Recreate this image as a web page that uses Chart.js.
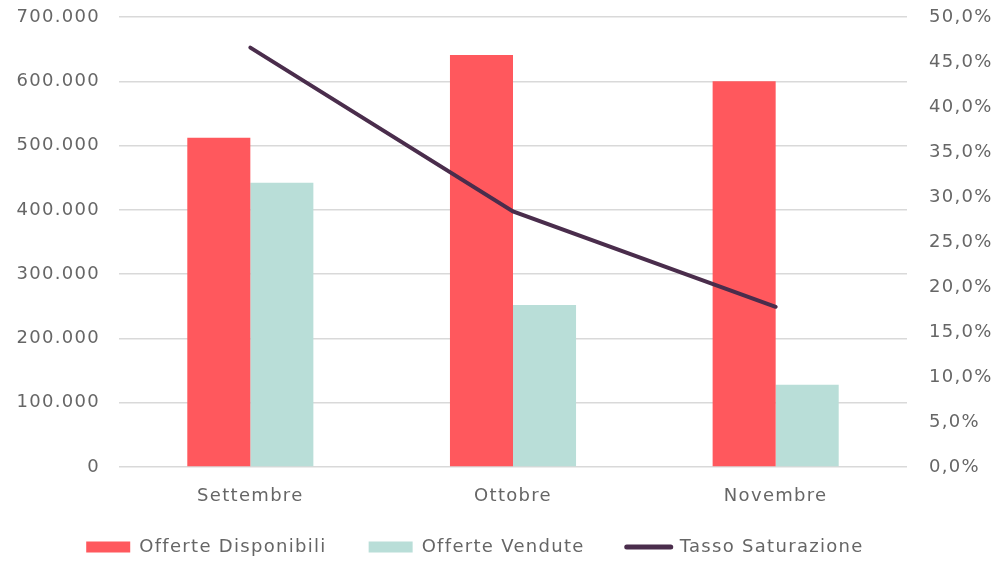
<!DOCTYPE html>
<html>
<head>
<meta charset="utf-8">
<script src="https://cdn.jsdelivr.net/npm/chart.js@4.4.1/dist/chart.umd.min.js"></script>
<style>
  html, body { margin: 0; padding: 0; background: #fff; }
  #wrap { width: 992px; height: 563px; }
</style>
</head>
<body>
<div id="wrap"><canvas id="chart" width="992" height="563"></canvas></div>
<script>
// dati
const mesi = ['Settembre', 'Ottobre', 'Novembre'];
const offerteDisponibili = [512000, 641000, 600000];
const offerteVendute = [442000, 252000, 128000];
const tassoSaturazione = [46.6, 28.4, 17.8];

const TEXT = '#666666';
const GRID = '#d9d9d9';
const FONT = { family: 'DejaVu Sans', size: 18 };

const fmtMigliaia = v => v === 0 ? '0' : v.toLocaleString('it-IT').replace(/,/g, '.');
const fmtPerc = v => v.toFixed(1).replace('.', ',') + '%';

// testo un po' più largo, come il font originale
const spaziatura = {
    id: 'spaziatura',
    beforeUpdate: chart => { chart.ctx.letterSpacing = '1.3px'; },
    beforeDraw: chart => { chart.ctx.letterSpacing = '1.3px'; }
};

// gli assi verticali non devono spingere l'area del grafico
const senzaMargini = s => { s.paddingTop = 0; s.paddingBottom = 0; };

new Chart(document.getElementById('chart').getContext('2d'), {
    plugins: [spaziatura],
    data: {
        labels: mesi,
        datasets: [
            {
                type: 'line',
                label: 'Tasso Saturazione',
                data: tassoSaturazione,
                yAxisID: 'y1',
                borderColor: '#4a2d4c',
                backgroundColor: '#4a2d4c',
                borderWidth: 4,
                borderCapStyle: 'round',
                pointRadius: 0,
                tension: 0,
                order: 0
            },
            {
                type: 'bar',
                label: 'Offerte Disponibili',
                data: offerteDisponibili,
                yAxisID: 'y',
                backgroundColor: '#ff585d',
                categoryPercentage: 0.48,
                barPercentage: 1.0,
                order: 1
            },
            {
                type: 'bar',
                label: 'Offerte Vendute',
                data: offerteVendute,
                yAxisID: 'y',
                backgroundColor: '#b9ded8',
                categoryPercentage: 0.48,
                barPercentage: 1.0,
                order: 1
            }
        ]
    },
    options: {
        responsive: false,
        animation: false,
        layout: { padding: { top: 17, bottom: -3 } },
        scales: {
            x: {
                grid: { display: false },
                border: { display: false },
                ticks: { color: TEXT, font: FONT, padding: 11 },
                afterFit: s => { s.height = 43; }
            },
            y: {
                position: 'left',
                min: 0, max: 700000,
                ticks: { stepSize: 100000, color: TEXT, font: FONT, padding: 19, callback: fmtMigliaia },
                grid: { color: GRID, lineWidth: 1.5, drawTicks: false },
                border: { display: false },
                afterFit: s => { s.width = 119; senzaMargini(s); }
            },
            y1: {
                position: 'right',
                min: 0, max: 50,
                ticks: { stepSize: 5, color: TEXT, font: FONT, padding: 14, callback: fmtPerc },
                grid: { display: false },
                border: { display: false },
                afterFit: s => { s.width = 85; senzaMargini(s); }
            }
        },
        plugins: {
            tooltip: { enabled: false },
            legend: {
                position: 'bottom',
                labels: {
                    color: TEXT,
                    font: FONT,
                    usePointStyle: true,
                    pointStyleWidth: 44,
                    boxHeight: 11,
                    padding: 28,
                    // spazi finali: allargano gli intervalli e spostano la legenda a sinistra come nell'originale
                    generateLabels: chart => chart.data.datasets.map((ds, i) => ({
                        text: ds.type === 'line' ? ds.label + '      ' : ds.label + '  ',
                        fillStyle: ds.backgroundColor,
                        strokeStyle: ds.type === 'line' ? ds.borderColor : ds.backgroundColor,
                        lineWidth: ds.type === 'line' ? 5 : 0,
                        lineCap: 'round',
                        pointStyle: ds.type === 'line' ? 'line' : 'rect',
                        fontColor: TEXT,
                        datasetIndex: i,
                        hidden: false
                    })).sort((a, b) => (a.pointStyle === 'line') - (b.pointStyle === 'line'))
                }
            }
        }
    }
});
</script>
</body>
</html>
